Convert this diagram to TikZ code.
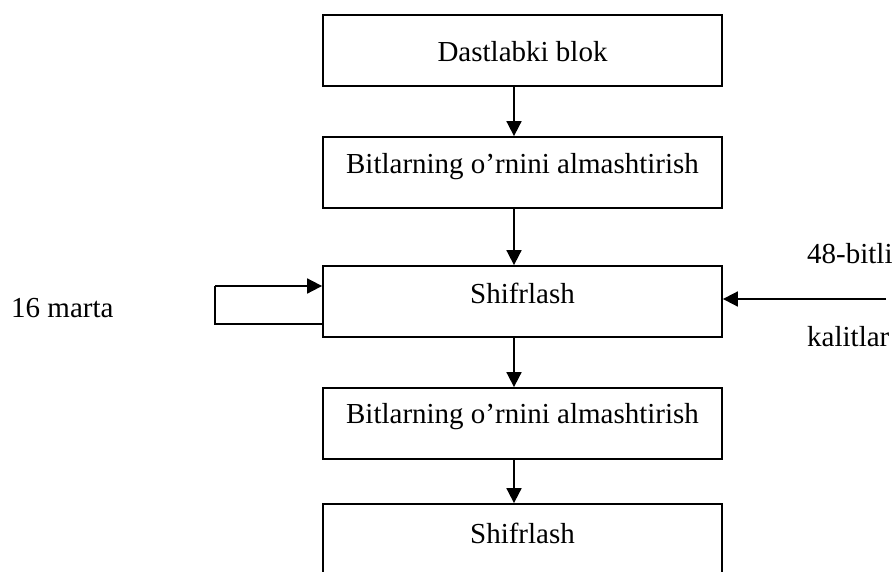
\documentclass[tikz,border=0pt]{standalone}
\usepackage{fontspec}
\setmainfont{Liberation Serif}
\usetikzlibrary{arrows.meta}
\begin{document}
\begin{tikzpicture}[x=1pt,y=-1pt,
  blk/.style={draw,line width=1.8pt,minimum width=399pt,minimum height=71pt,inner sep=0pt},
  lbl/.style={anchor=base,inner sep=0pt,font=\fontsize{29}{34}\selectfont},
  arr/.style={line width=1.8pt,-{Triangle[length=15pt,width=15pt]}},
  ln/.style={line width=1.8pt}]
\useasboundingbox (0,0) rectangle (893,572);
\node[blk] (b1) at (522.5,50.5) {};
\node[blk] (b2) at (522.5,172.5) {};
\node[blk] (b3) at (522.5,301.5) {};
\node[blk] (b4) at (522.5,423.5) {};
\node[blk] (b5) at (522.5,539.5) {};
\node[lbl] (t1) at (522.5,62) {Dastlabki blok};
\node[lbl] (t2) at (522.5,173) {Bitlarning o’rnini almashtirish};
\node[lbl] (t3) at (522.5,303) {Shifrlash};
\node[lbl] (t4) at (522.5,423) {Bitlarning o’rnini almashtirish};
\node[lbl] (t5) at (522.5,543) {Shifrlash};
\node[lbl,anchor=base west] (m16) at (11,317) {16 marta};
\node[lbl,anchor=base west] (k48) at (807,263) {48-bitli};
\node[lbl,anchor=base west] (kal) at (807,346) {kalitlar};
\draw[arr] ([xshift=-8.5pt]b1.south) -- ([xshift=-8.5pt]b2.north);
\draw[arr] ([xshift=-8.5pt]b2.south) -- ([xshift=-8.5pt]b3.north);
\draw[arr] ([xshift=-8.5pt]b3.south) -- ([xshift=-8.5pt]b4.north);
\draw[arr] ([xshift=-8.5pt]b4.south) -- ([xshift=-8.5pt]b5.north);
\coordinate (lb) at (b3.west |- 0,324);
\coordinate (lt) at (b3.west |- 0,286);
\draw[ln] (lb) -- (215,324) -- (215,286);
\draw[arr] (215,286) -- (lt);
\coordinate (kin) at (886,299);
\draw[arr] (kin) -- (b3.east |- kin);
\end{tikzpicture}
\end{document}
